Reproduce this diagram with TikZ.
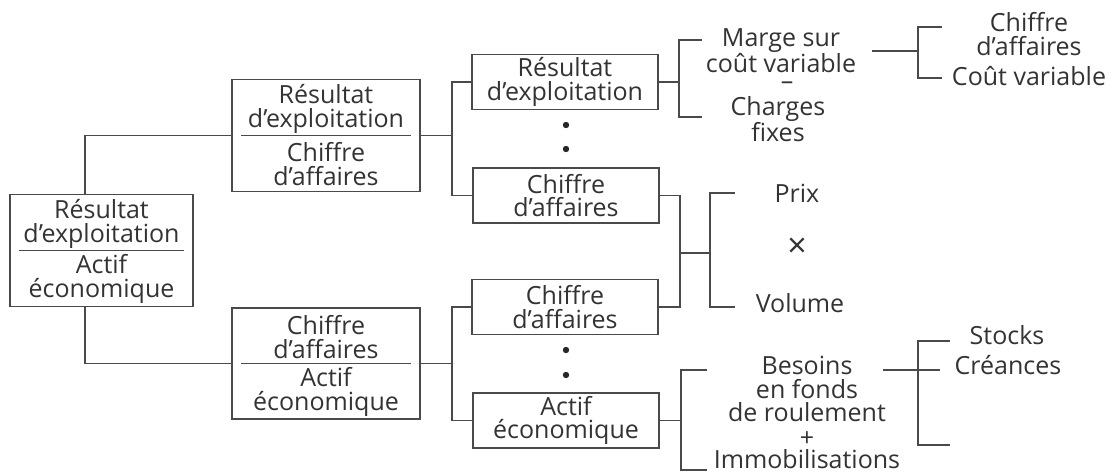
\documentclass[tikz,border=0pt]{standalone}
\usepackage{fontspec}
\setmainfont{Open Sans}
\usetikzlibrary{positioning,calc}
\definecolor{linegray}{HTML}{4A4A4A}
\definecolor{textgray}{HTML}{333333}
\newcommand{\txtfont}{\fontsize{25}{23.5}\selectfont}

\begin{document}
\begin{tikzpicture}[x=1pt, y=-1pt,
    link/.style={draw=linegray, line width=1.5pt},
    txt/.style={text=textgray, align=center, font=\txtfont, inner sep=0pt},
    tight/.style={txt, font=\fontsize{25}{20}\selectfont},
    box/.style={link, txt, minimum width=186pt, minimum height=55pt},
    bigbox/.style={box, minimum width=188pt, minimum height=112pt}]
    \useasboundingbox (0,0) rectangle (1113,474);
    % ratio boxes
    \node[bigbox, minimum width=183pt] (ratio) at (101.5,250.5) {};
    \node[txt] (ratioN) at (101.5,224) {Résultat\\d'exploitation};
    \node[txt] (ratioD) at (101.5,279) {Actif\\économique};
    \draw[link] ([xshift=10pt]ratio.west) -- ([xshift=-10pt]ratio.east);
    \node[bigbox] (marg) at (326,135.5) {};
    \node[txt] (margN) at (326,109) {Résultat\\d'exploitation};
    \node[txt] (margD) at (326,164) {Chiffre\\d'affaires};
    \draw[link] ([xshift=10pt]marg.west) -- ([xshift=-10pt]marg.east);
    \node[bigbox, minimum height=111pt] (rot) at (326,363.5) {};
    \node[txt] (rotN) at (326,337) {Chiffre\\d'affaires};
    \draw[link] ([xshift=10pt]rot.west) -- ([xshift=-10pt]rot.east);
    \node[txt] (rotD) at (326,392) {Actif\\économique};
    % small boxes
    \node[box] (res) at (565,82) {Résultat\\d'exploitation};
    \node[box] (caH) at (566,195.5) {Chiffre\\d'affaires};
    \node[box] (caB) at (565,307) {Chiffre\\d'affaires};
    \node[box] (actif) at (566,420.5) {Actif\\économique};
    \foreach \y in {125,149,350,375}
      \fill[black!85] (566,\y) circle (3.2pt);
    % tree links
    \coordinate (spine1) at (85,0);
    \coordinate (spine2) at (452,0);
    \draw[link] (marg.west) -| (spine1 |- ratio.north);
    \draw[link] (rot.west) -| (spine1 |- ratio.south);
    \draw[link] (marg.east) -- (marg.east -| spine2);
    \draw[link] (res.west) -| (spine2 |- caH.west) -- (caH.west);
    \draw[link] (rot.east) -- (rot.east -| spine2);
    \draw[link] (caB.west) -| (spine2 |- actif.west) -- (actif.west);
    % marge sur cout variable
    \coordinate (j3) at (679,0);
    \coordinate (margeEnd) at (702,40);
    \coordinate (chargesEnd) at (702,117);
    \draw[link] (res.east) -- (res.east -| j3);
    \draw[link] (margeEnd) -| (j3 |- chargesEnd) -- (chargesEnd);
    \node[tight] (marge) at (781,51) {Marge sur\\coût variable};
    \node[txt, text height=9pt, text depth=0pt] (moins) at (787,85) {–};
    \node[tight] (charges) at (778,119) {Charges\\fixes};
    \coordinate (j4) at (918,0);
    \coordinate (caEnd) at (942,27);
    \coordinate (cvEnd) at (942,78);
    \draw[link] ([xshift=16pt]marge.east) -- (marge.east -| j4);
    \draw[link] (caEnd) -| (j4 |- cvEnd) -- (cvEnd);
    \node[txt] (ca) at (1029,34) {Chiffre\\d'affaires};
    \node[txt] (cv) at (1029,76) {Coût variable};
    % prix x volume
    \coordinate (j5) at (680,0);
    \coordinate (j6) at (710,0);
    \coordinate (pvMid) at (680,253);
    \coordinate (prixEnd) at (735,193);
    \coordinate (volEnd) at (735,307);
    \draw[link] (caH.east) -| (j5 |- caB.east) -- (caB.east);
    \draw[link] (pvMid) -- (pvMid -| j6);
    \draw[link] (prixEnd) -| (j6 |- volEnd) -- (volEnd);
    \node[txt] (prix) at (797,193) {Prix};
    \node[txt, font=\fontsize{34}{34}\selectfont] (fois) at (797,248) {×};
    \node[txt] (vol) at (800,303) {Volume};
    % actif economique
    \coordinate (j7) at (681,0);
    \coordinate (bfrEnd) at (707,370);
    \coordinate (immoEnd) at (707,470);
    \draw[link] (actif.east) -- (actif.east -| j7);
    \draw[link] (bfrEnd) -| (j7 |- immoEnd) -- (immoEnd);
    \node[txt] (bfr) at (807,389) {Besoins\\en fonds\\de roulement};
    \node[txt] (plus) at (807,439) {+};
    \node[txt] (immo) at (807,459) {Immobilisations};
    \coordinate (j8) at (918,0);
    \coordinate (bfrOut) at (883,370);
    \coordinate (creOut) at (940,370);
    \coordinate (stockEnd) at (950,341);
    \coordinate (vide) at (950,445);
    \draw[link] (bfrOut) -- (creOut);
    \draw[link] (stockEnd) -| (j8 |- vide) -- (vide);
    \node[txt] (stocks) at (1007,335) {Stocks};
    \node[txt] (creances) at (1008,365) {Créances};
\end{tikzpicture}
\end{document}
